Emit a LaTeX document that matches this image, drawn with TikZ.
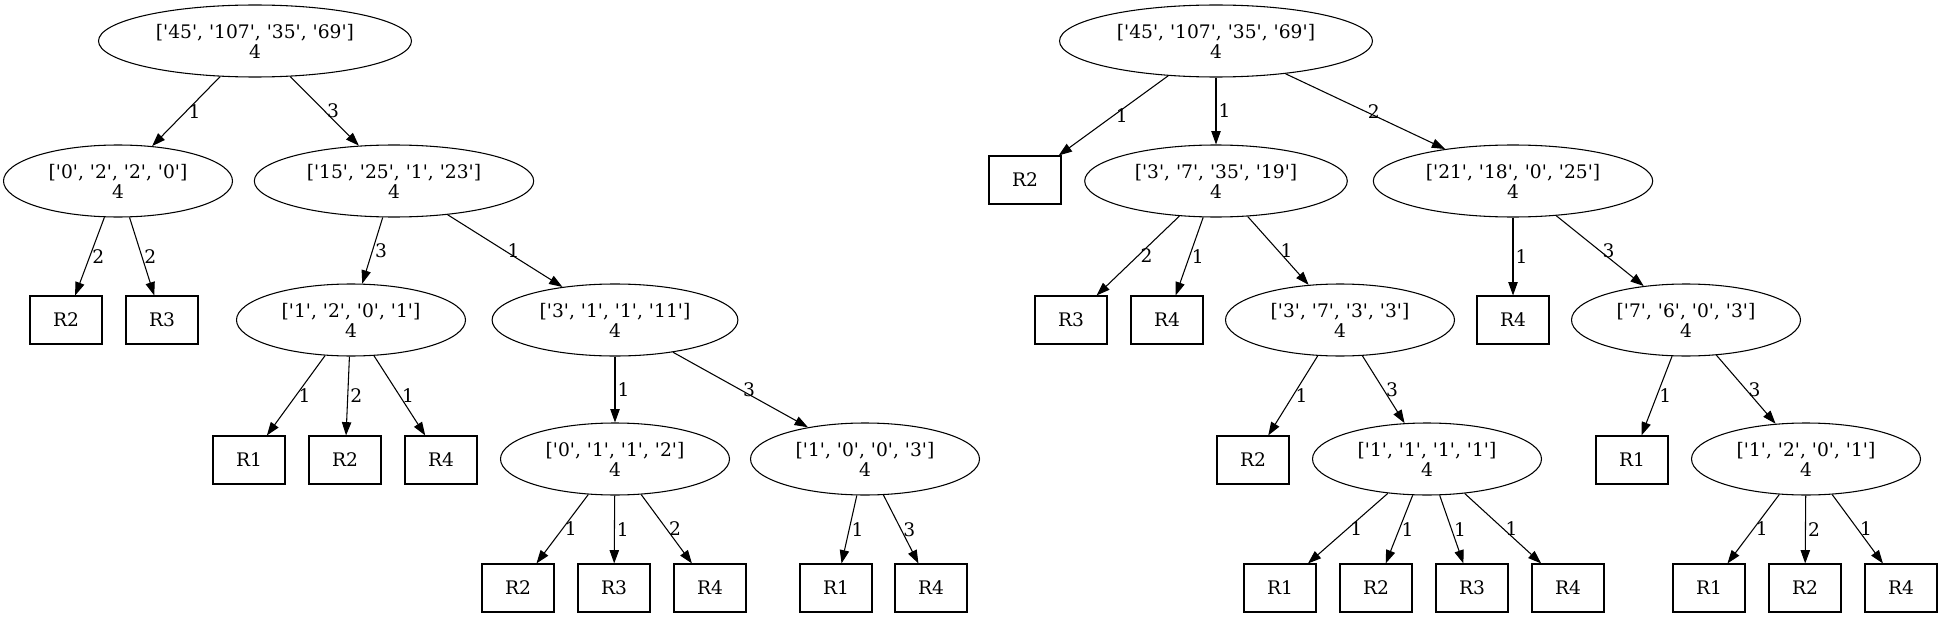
\documentclass[tikz,border=0pt]{standalone}
\usepackage{fontspec}
\setmainfont[Ligatures=TeXOff]{DejaVu Serif}
\usetikzlibrary{arrows.meta,shapes.geometric}
\tikzset{
  split/.style={draw,ellipse,align=center,inner xsep=8.7pt,minimum height=54pt,
    line width=0.8pt,font=\fontsize{14pt}{15pt}\selectfont},
  leaf/.style={draw,rectangle,minimum width=54pt,minimum height=36pt,
    line width=0.8pt,font=\fontsize{14pt}{15pt}\selectfont},
  link/.style={-{Triangle[length=10pt,width=7pt]},line width=0.8pt},
  lbl/.style={right,inner sep=1.5pt,font=\fontsize{14pt}{15pt}\selectfont}
}
\begin{document}
\begin{tikzpicture}[x=0.75pt,y=-0.75pt]
  \useasboundingbox (0,0) rectangle (1943,617);

  \node[split] (L0) at (255,41) {['45', '107', '35', '69']\\4};
  \node[split] (L1) at (118,181) {['0', '2', '2', '0']\\4};
  \node[split] (L2) at (394,181) {['15', '25', '1', '23']\\4};
  \node[leaf] (L1a) at (66,320) {R2};
  \node[leaf] (L1b) at (162,320) {R3};
  \node[split] (L3) at (351,320) {['1', '2', '0', '1']\\4};
  \node[split] (L4) at (615,320) {['3', '1', '1', '11']\\4};
  \node[leaf] (L3a) at (249,460) {R1};
  \node[leaf] (L3b) at (345,460) {R2};
  \node[leaf] (L3c) at (441,460) {R4};
  \node[split] (L5) at (615,459) {['0', '1', '1', '2']\\4};
  \node[split] (L6) at (865,459) {['1', '0', '0', '3']\\4};
  \node[leaf] (L5a) at (518,588) {R2};
  \node[leaf] (L5b) at (614,588) {R3};
  \node[leaf] (L5c) at (710,588) {R4};
  \node[leaf] (L6a) at (836,588) {R1};
  \node[leaf] (L6b) at (931,588) {R4};

  \draw[link] (L0) -- node[lbl] {1} (L1);
  \draw[link] (L0) -- node[lbl] {3} (L2);
  \draw[link] (L1) -- node[lbl] {2} (L1a);
  \draw[link] (L1) -- node[lbl] {2} (L1b);
  \draw[link] (L2) -- node[lbl] {3} (L3);
  \draw[link] (L2) -- node[lbl] {1} (L4);
  \draw[link] (L3) -- node[lbl] {1} (L3a);
  \draw[link] (L3) -- node[lbl] {2} (L3b);
  \draw[link] (L3) -- node[lbl] {1} (L3c);
  \draw[link] (L4) -- node[lbl] {1} (L5);
  \draw[link] (L4) -- node[lbl] {3} (L6);
  \draw[link] (L5) -- node[lbl] {1} (L5a);
  \draw[link] (L5) -- node[lbl] {1} (L5b);
  \draw[link] (L5) -- node[lbl] {2} (L5c);
  \draw[link] (L6) -- node[lbl] {1} (L6a);
  \draw[link] (L6) -- node[lbl] {3} (L6b);

  \node[split] (R0) at (1216,41) {['45', '107', '35', '69']\\4};
  \node[leaf] (R0a) at (1025,180) {R2};
  \node[split] (R1) at (1216,181) {['3', '7', '35', '19']\\4};
  \node[split] (R2) at (1513,181) {['21', '18', '0', '25']\\4};
  \node[leaf] (R1a) at (1071,320) {R3};
  \node[leaf] (R1b) at (1167,320) {R4};
  \node[split] (R3) at (1340,320) {['3', '7', '3', '3']\\4};
  \node[leaf] (R2a) at (1513,320) {R4};
  \node[split] (R4) at (1686,320) {['7', '6', '0', '3']\\4};
  \node[leaf] (R3a) at (1253,460) {R2};
  \node[split] (R5) at (1427,459) {['1', '1', '1', '1']\\4};
  \node[leaf] (R4a) at (1632,460) {R1};
  \node[split] (R6) at (1806,459) {['1', '2', '0', '1']\\4};
  \node[leaf] (R5a) at (1280,588) {R1};
  \node[leaf] (R5b) at (1376,588) {R2};
  \node[leaf] (R5c) at (1472,588) {R3};
  \node[leaf] (R5d) at (1568,588) {R4};
  \node[leaf] (R6a) at (1709,588) {R1};
  \node[leaf] (R6b) at (1805,588) {R2};
  \node[leaf] (R6c) at (1901,588) {R4};

  \draw[link] (R0) -- node[lbl] {1} (R0a);
  \draw[link] (R0) -- node[lbl] {1} (R1);
  \draw[link] (R0) -- node[lbl] {2} (R2);
  \draw[link] (R1) -- node[lbl] {2} (R1a);
  \draw[link] (R1) -- node[lbl] {1} (R1b);
  \draw[link] (R1) -- node[lbl] {1} (R3);
  \draw[link] (R2) -- node[lbl] {1} (R2a);
  \draw[link] (R2) -- node[lbl] {3} (R4);
  \draw[link] (R3) -- node[lbl] {1} (R3a);
  \draw[link] (R3) -- node[lbl] {3} (R5);
  \draw[link] (R4) -- node[lbl] {1} (R4a);
  \draw[link] (R4) -- node[lbl] {3} (R6);
  \draw[link] (R5) -- node[lbl] {1} (R5a);
  \draw[link] (R5) -- node[lbl] {1} (R5b);
  \draw[link] (R5) -- node[lbl] {1} (R5c);
  \draw[link] (R5) -- node[lbl] {1} (R5d);
  \draw[link] (R6) -- node[lbl] {1} (R6a);
  \draw[link] (R6) -- node[lbl] {2} (R6b);
  \draw[link] (R6) -- node[lbl] {1} (R6c);
\end{tikzpicture}
\end{document}
